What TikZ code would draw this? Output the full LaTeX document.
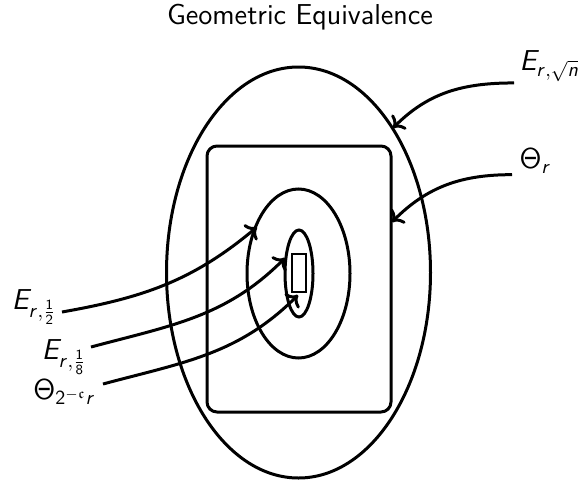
\documentclass[tikz,border=0pt]{standalone}
\usepackage{amssymb}
\usetikzlibrary{arrows.meta}
% sans math, as in the reference
\SetSymbolFont{operators}{normal}{OT1}{cmss}{m}{n}
\DeclareSymbolFont{sfit}{OT1}{cmss}{m}{sl}
\DeclareMathSymbol{E}{\mathalpha}{sfit}{`E}
\DeclareMathSymbol{r}{\mathalpha}{sfit}{`r}
\DeclareMathSymbol{n}{\mathalpha}{sfit}{`n}
\begin{document}
\begin{tikzpicture}[x=0.5pt,y=0.5pt,
	line width=1.5pt,
	every node/.style={font=\Large\sffamily},
	lbl/.style={inner sep=0pt},
	arr/.style={->,line width=1.5pt}]
	\useasboundingbox (0,0) rectangle (578,489);
	\path
	coordinate (ctr) at (298.5,216.5)
	coordinate (tip1) at (257,262)
	coordinate (tip2) at (285,231)
	coordinate (tip3) at (298,194)
	coordinate (tip4) at (393,361)
	coordinate (tip5) at (392,267)
	;
	\draw (ctr) ellipse [x radius=132,y radius=205.5];
	\draw[rounded corners=5pt] (207,77) rectangle (391,343);
	\draw (298.5,215.5) ellipse [x radius=51.5,y radius=84.5];
	\draw (299,215.5) ellipse [x radius=14,y radius=43.5];
	\draw[line width=1.2pt] (292,197) rectangle (306,235);
	\node (title) at (300,472) {Geometric Equivalence};
	\node[lbl,anchor=east] (lblhalf) at (58,182) {$E_{r,\frac{1}{2}}$};
	\node[lbl,anchor=east] (lbleighth) at (88,132) {$E_{r,\frac{1}{8}}$};
	\node[lbl,anchor=east] (lblsmall) at (97,97) {$\Theta_{2^{-\mathfrak{c}}r}$};
	\node[lbl,anchor=west] (lblsqrt) at (518,423) {$E_{r,\sqrt{n}}$};
	\node[lbl,anchor=west] (lbltheta) at (518,328) {$\Theta_r$};
\draw[arr] ([shift={(2pt,-2.5pt)}]lblhalf.east) to[out=10,in=-140] (tip1);
\draw[arr] ([shift={(1.5pt,5pt)}]lbleighth.east) to[out=15,in=-135] (tip2);
\draw[arr] ([shift={(3pt,4pt)}]lblsmall.east) to[out=15,in=-135] (tip3);
\draw[arr] ([xshift=-2pt]lblsqrt.south west) to[out=180,in=45] (tip4);
\draw[arr] ([xshift=-3pt]lbltheta.south west) to[out=180,in=45] (tip5);
\end{tikzpicture}
\end{document}
